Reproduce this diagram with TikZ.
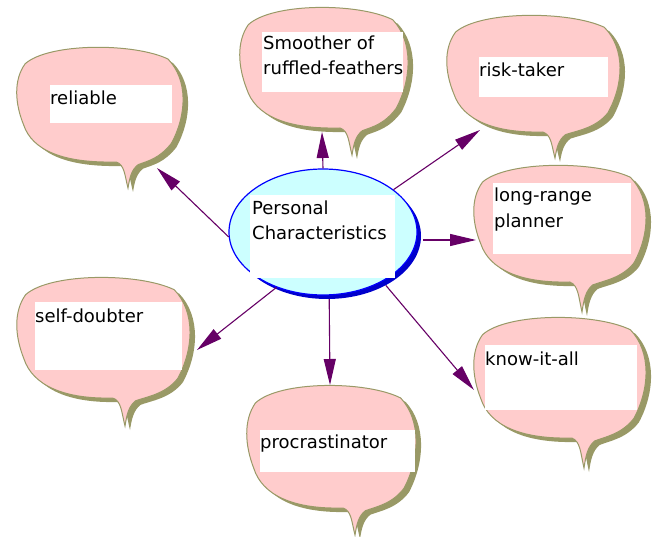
\documentclass[tikz,border=0pt]{standalone}
\usepackage{fontspec}
\setmainfont{DejaVu Sans}
\usetikzlibrary{arrows.meta,shapes.geometric}
\definecolor{bpink}{HTML}{FFCCCC}
\definecolor{bolive}{HTML}{999966}
\definecolor{ecyan}{HTML}{CCFFFF}
\definecolor{eblue}{HTML}{0000FF}
\definecolor{eshadow}{HTML}{0000CC}
\definecolor{apurple}{HTML}{660066}
\tikzset{
  bubblebody/.style={fill=bpink, draw=bolive, line width=1pt},
  bubbleshadow/.style={fill=bolive},
  wbox/.style={fill=white, draw=none, inner sep=0pt, outer sep=0pt, anchor=north west},
  lbl/.style={inner sep=0pt, font=\fontsize{18}{25}\selectfont, align=left, text=black},
  conn/.style={draw=apurple, line width=1.1pt, -{Triangle[length=26pt,width=12pt]}},
}
\newcommand\bubblepath{%
 ({\bL+0.06*\bW},{\bT+0.16*\bH})
 .. controls ({\bL+0.2*\bW},{\bT-0.02*\bH}) and ({\bR-0.3*\bW},{\bT-0.02*\bH}) .. ({\bR-0.1*\bW},{\bT+0.12*\bH})
 .. controls ({\bR+0.02*\bW},{\bT+0.3*\bH}) and ({\bR+0.01*\bW},{\bB-0.4*\bH}) .. ({\bR-0.08*\bW},{\bB-0.16*\bH})
 .. controls ({\bR-0.15*\bW},{\bB-0.03*\bH}) and ({\bX+0.12*\bW},{\bB-0.01*\bH}) .. ({\bX+0.06*\bW},{\bB+0.1*(\bY-\bB)})
 .. controls ({\bX+0.02*\bW},{\bB+0.3*(\bY-\bB)}) and ({\bX+0.01*\bW},{\bB+0.6*(\bY-\bB)}) .. ({\bX},{\bY})
 .. controls ({\bX-0.02*\bW},{\bB+0.5*(\bY-\bB)}) and ({\bX-0.02*\bW},{\bB+0.1*(\bY-\bB)}) .. ({\bX-0.07*\bW},{\bB})
 .. controls ({\bL+0.28*\bW},{\bB+0.01*\bH}) and ({\bL+0.1*\bW},{\bB-0.1*\bH}) .. ({\bL+0.05*\bW},{\bB-0.32*\bH})
 .. controls ({\bL+0.0*\bW},{\bB-0.5*\bH}) and ({\bL-0.01*\bW},{\bT+0.3*\bH}) .. ({\bL+0.06*\bW},{\bT+0.16*\bH}) -- cycle}
\newcommand\speechbubble[6]{%
 \def\bL{#1}\def\bT{#2}\def\bR{#3}\def\bB{#4}\def\bX{#5}\def\bY{#6}%
 \pgfmathsetmacro\bW{#3-#1}\pgfmathsetmacro\bH{#4-#2}%
 \begin{scope}[shift={(5,4)}]\path[bubbleshadow] \bubblepath;\end{scope}
 \path[bubblebody] \bubblepath;
}
\begin{document}
\begin{tikzpicture}[x=1pt,y=-1pt]
\useasboundingbox (0,0) rectangle (655,537);
% bubbles
\speechbubble{15}{45}{185}{162}{128}{188}
\speechbubble{238}{5}{410}{128}{352}{155}
\speechbubble{472}{163}{648}{282}{582}{312}
\speechbubble{445}{13}{622}{132}{555}{158}
\speechbubble{472}{315}{648}{438}{584}{468}
\speechbubble{245}{383}{418}{508}{355}{535}
\speechbubble{15}{275}{192}{398}{125}{426}
% white boxes
\node[wbox, minimum width=122pt, minimum height=38pt] (wrel) at (50,85) {};
\node[wbox, minimum width=141pt, minimum height=60pt] (wsmo) at (262,32) {};
\node[wbox, minimum width=129pt, minimum height=40pt] (wrisk) at (479,57) {};
\node[wbox, minimum width=138pt, minimum height=71pt] (wlong) at (493,183) {};
\node[wbox, minimum width=152pt, minimum height=65pt] (wknow) at (485,345) {};
\node[wbox, minimum width=155pt, minimum height=42pt] (wproc) at (260,430) {};
\node[wbox, minimum width=147pt, minimum height=68pt] (wself) at (35,302) {};
% labels
\node[lbl, anchor=base west] (trel) at (50,105) {reliable};
\node[lbl, anchor=base west] (tsmo) at (263,75) {Smoother of\\ruffled-feathers};
\node[lbl, anchor=base west] (trisk) at (479,77) {risk-taker};
\node[lbl, anchor=base west] (tlong) at (494,227) {long-range\\planner};
\node[lbl, anchor=base west] (tknow) at (485,365) {know-it-all};
\node[lbl, anchor=base west] (tproc) at (260,448) {procrastinator};
\node[lbl, anchor=base west] (tself) at (35,322) {self-doubter};
% centre ellipse
\node[ellipse, fill=eshadow, minimum width=188pt, minimum height=126pt, inner sep=0pt] (cshadow) at (327,236) {};
\node[ellipse, fill=ecyan, draw=eblue, line width=1.2pt, minimum width=188pt, minimum height=126pt, inner sep=0pt] (center) at (323,232) {};
\node[wbox, minimum width=145pt, minimum height=83pt] (wcen) at (250,195) {};
\node[lbl, anchor=base west] (tcen) at (252,240) {Personal\\Characteristics};
% tips
\coordinate (prel) at (157,168);
\coordinate (psmo) at (322,132);
\coordinate (prisk) at (480,130);
\coordinate (plong) at (476,240);
\coordinate (pknow) at (474,390);
\coordinate (pproc) at (330,385);
\coordinate (pself) at (197,350);
\coordinate (slong) at (423,240);
% connectors
\draw[conn] (center.183) -- (prel);
\draw[conn] (center.90) -- (psmo);
\draw[conn] (center.31) -- (prisk);
\draw[conn] (slong) -- (plong);
\draw[conn] (cshadow.320) -- (pknow);
\draw[conn] (cshadow.272) -- (pproc);
\draw[conn] (center.230) -- (pself);
\end{tikzpicture}
\end{document}
